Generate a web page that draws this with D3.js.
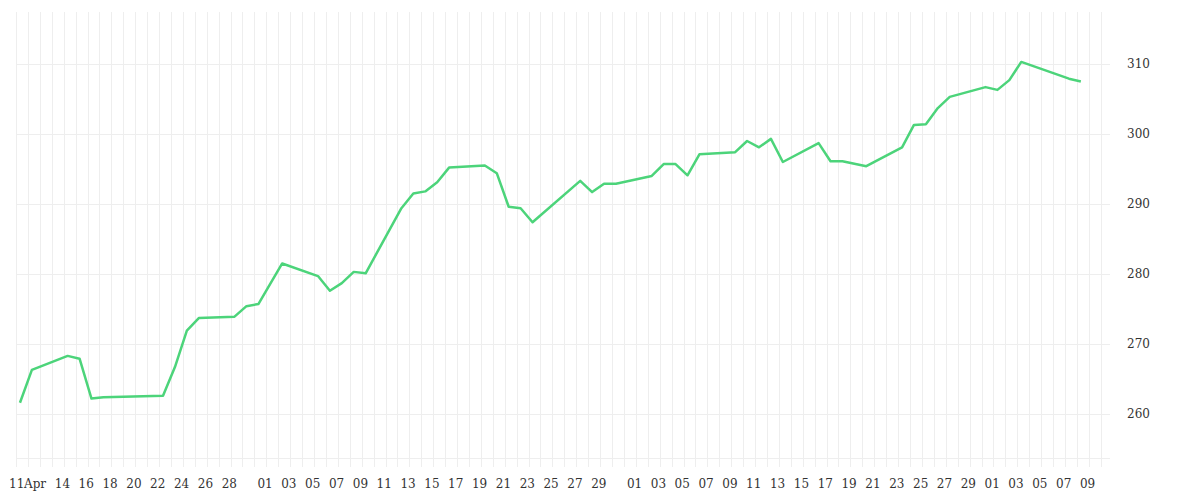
<!DOCTYPE html>
<html><head><meta charset="utf-8">
<script src="https://cdn.jsdelivr.net/npm/d3@7"></script>
<style>body{margin:0;background:#fff}svg text{font-family:"DejaVu Serif","Liberation Serif",serif;font-size:12px;fill:#333}</style>
</head><body><svg id="c" width="1200" height="500"></svg>
<script>
const dates = ["2024-04-11","2024-04-12","2024-04-15","2024-04-16","2024-04-17","2024-04-18","2024-04-23","2024-04-24","2024-04-25","2024-04-26","2024-04-29","2024-04-30","2024-05-01","2024-05-03","2024-05-06","2024-05-07","2024-05-08","2024-05-09","2024-05-10","2024-05-13","2024-05-14","2024-05-15","2024-05-16","2024-05-17","2024-05-20","2024-05-21","2024-05-22","2024-05-23","2024-05-24","2024-05-28","2024-05-29","2024-05-30","2024-05-31","2024-06-03","2024-06-04","2024-06-05","2024-06-06","2024-06-07","2024-06-10","2024-06-11","2024-06-12","2024-06-13","2024-06-14","2024-06-17","2024-06-18","2024-06-19","2024-06-21","2024-06-24","2024-06-25","2024-06-26","2024-06-27","2024-06-28","2024-07-01","2024-07-02","2024-07-03","2024-07-04","2024-07-08","2024-07-09"];
const values = [261.6,266.3,268.3,267.9,262.2,262.4,262.6,266.7,271.9,273.7,273.9,275.4,275.7,281.5,279.7,277.6,278.7,280.3,280.1,289.4,291.5,291.8,293.1,295.2,295.5,294.4,289.6,289.4,287.4,293.3,291.7,292.9,292.9,294.0,295.7,295.7,294.1,297.1,297.4,299.0,298.1,299.3,296.0,298.7,296.1,296.1,295.4,298.1,301.3,301.4,303.7,305.3,306.7,306.3,307.7,310.3,307.9,307.5];
const yTicks = [260,270,280,290,300,310];
const xTickDates = ["2024-04-11","2024-04-12","2024-04-14","2024-04-16","2024-04-18","2024-04-20","2024-04-22","2024-04-24","2024-04-26","2024-04-28","2024-05-01","2024-05-03","2024-05-05","2024-05-07","2024-05-09","2024-05-11","2024-05-13","2024-05-15","2024-05-17","2024-05-19","2024-05-21","2024-05-23","2024-05-25","2024-05-27","2024-05-29","2024-06-01","2024-06-03","2024-06-05","2024-06-07","2024-06-09","2024-06-11","2024-06-13","2024-06-15","2024-06-17","2024-06-19","2024-06-21","2024-06-23","2024-06-25","2024-06-27","2024-06-29","2024-07-01","2024-07-03","2024-07-05","2024-07-07","2024-07-09"];
const xTickLabels = ["11","Apr","14","16","18","20","22","24","26","28","01","03","05","07","09","11","13","15","17","19","21","23","25","27","29","01","03","05","07","09","11","13","15","17","19","21","23","25","27","29","01","03","05","07","09"];

const p = d3.utcParse("%Y-%m-%d");
const svg = d3.select("#c");
const x = d3.scaleUtc().domain([p("2024-04-11"), p("2024-07-11")]).range([16, 16 + 91 * 11.92]);
const y = d3.scaleLinear().domain([253.71, 260 + (414 - 12) / 7]).range([458, 12]);
const left = 16, right = 1110;

const days = d3.utcDay.range(p("2024-04-11"), d3.utcDay.offset(p("2024-07-11"), 1));
svg.append("g").selectAll("line").data(days).join("line")
  .attr("x1", d => Math.round(x(d)) + 0.5).attr("x2", d => Math.round(x(d)) + 0.5).attr("y1", 12).attr("y2", 467)
  .attr("stroke", "#eeeeee").attr("stroke-width", 1);
svg.append("g").selectAll("line").data(yTicks.concat([253.71])).join("line")
  .attr("x1", left).attr("x2", right).attr("y1", d => Math.round(y(d)) + 0.5).attr("y2", d => Math.round(y(d)) + 0.5)
  .attr("stroke", "#eeeeee");

svg.append("g").selectAll("text").data(yTicks).join("text")
  .attr("x", 1127).attr("y", d => y(d) + 4).text(d => d);

svg.append("g").selectAll("text").data(xTickDates).join("text")
  .attr("x", (d, i) => i === 0 ? 9 : i === 1 ? 24 : x(p(d)) + 3).attr("y", 488)
  .text((d, i) => xTickLabels[i]);

const data = dates.map((d, i) => ({t: d3.utcHour.offset(p(d), 8), v: values[i]}));
svg.append("path").datum(data)
  .attr("fill", "none").attr("stroke", "#4cd47a").attr("stroke-width", 2.5).attr("stroke-linejoin", "round")
  .attr("d", d3.line().x(d => x(d.t)).y(d => y(d.v)));
</script></body></html>
